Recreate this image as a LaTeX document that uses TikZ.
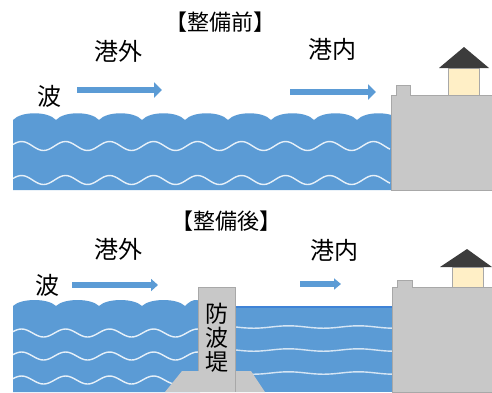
\documentclass[tikz,border=0pt]{standalone}
\usepackage{fontspec}
\setmainfont{Noto Sans CJK JP}
\usetikzlibrary{arrows.meta}
\definecolor{sea}{HTML}{5B9BD5}
\definecolor{calmline}{HTML}{3F83D6}
\definecolor{quay}{HTML}{C8C8C8}
\definecolor{quayedge}{HTML}{A8A8A8}
\definecolor{roof}{HTML}{3C3C3C}
\definecolor{wall}{HTML}{FFEFC6}
\begin{document}
\begin{tikzpicture}[x=1pt,y=-1pt,
  water/.style={fill=sea,draw=none},
  foam/.style={draw=white,opacity=0.85,line width=1.4pt},
  calmfoam/.style={draw=white,opacity=0.75,line width=1.4pt},
  concrete/.style={fill=quay,draw=quayedge,line width=0.6pt},
  flow/.style={draw=sea,line width=6pt,-{Triangle[length=8pt,width=15pt]}},
  smallflow/.style={draw=sea,line width=5.5pt,-{Triangle[length=7pt,width=11pt]}},
  title/.style={font=\fontsize{22}{22}\selectfont,inner sep=0pt},
  label/.style={font=\fontsize{24}{24}\selectfont,inner sep=0pt}]
\useasboundingbox (0,0) rectangle (492,392);
\fill[white] (0,0) rectangle (492,392);

% ---------- before: open sea reaching the quay ----------
\node[title] (t1) at (220,22) {【整備前】};
\node[label] (o1) at (118,51) {港外};
\node[label] (w1) at (49,96) {波};
\node[label] (i1) at (332,49) {港内};

\fill[water] (13,190) -- (13,120)
  \foreach \k in {0,...,8} { .. controls ({13+43*\k+8},111) and ({13+43*\k+35},111) .. ({13+43*(\k+1)},120) }
  -- (395,120) -- (395,190) -- cycle;
\draw[foam] plot[domain=13:390,samples=160] (\x,{146+4.5*sin((\x-13)/44*360+200)});
\draw[foam] plot[domain=13:390,samples=160] (\x,{180+4.5*sin((\x-13)/44*360+200)});

\coordinate (a1s) at (77,90);  \coordinate (a1e) at (162,90);
\coordinate (a2s) at (290,92); \coordinate (a2e) at (376,92);
\draw[flow] (a1s) -- (a1e);
\draw[flow] (a2s) -- (a2e);

% quay and lighthouse
\draw[concrete] (391,190) -- (391,95) -- (396,95) -- (396,85) -- (410,85) -- (410,95) -- (492,95) -- (492,190) -- cycle;
\fill[wall,draw=quayedge,line width=0.4pt] (448,68) rectangle (479,95);
\fill[roof] (439,68) -- (464,47) -- (489,68) -- cycle;

% ---------- after: breakwater shelters the harbour ----------
\node[title] (t2) at (226,221) {【整備後】};
\node[label] (o2) at (118,249) {港外};
\node[label] (w2) at (47,285) {波};
\node[label] (i2) at (334,250) {港内};

% outer sea
\fill[water] (13,392) -- (13,306)
  \foreach \k in {0,...,3} { .. controls ({13+43*\k+8},298) and ({13+43*\k+35},298) .. ({13+43*(\k+1)},306) }
  .. controls (193,298) and (197,300) .. (200,301) -- (200,392) -- cycle;
\draw[foam] plot[domain=13:198,samples=90] (\x,{333+4*sin((\x-13)/44*360+200)});
\draw[foam] plot[domain=13:198,samples=90] (\x,{356+4*sin((\x-13)/44*360+200)});
\draw[foam] plot[domain=13:198,samples=90] (\x,{380+4*sin((\x-13)/44*360+200)});

% inner calm water
\fill[water] (234,306) rectangle (394,392);
\draw[calmline,line width=2.4pt] (234,307) -- (395,307);
\draw[calmfoam] plot[domain=236:392,samples=60] (\x,{327+1.2*sin((\x-236)/70*360)});
\draw[calmfoam] plot[domain=236:392,samples=60] (\x,{350+1.2*sin((\x-236)/70*360)});
\draw[calmfoam] plot[domain=236:395,samples=60] (\x,{373+1.2*sin((\x-236)/70*360)});

\coordinate (b1s) at (72,285);  \coordinate (b1e) at (158,285);
\coordinate (b2s) at (300,284); \coordinate (b2e) at (341,284);
\draw[flow,-{Triangle[length=7pt,width=12pt]}] (b1s) -- (b1e);
\draw[smallflow] (b2s) -- (b2e);

% breakwater on its rubble mound
\fill[quay] (165,392) -- (182,371) -- (251,371) -- (265,392) -- cycle;
\draw[concrete] (198,392) -- (198,287) -- (235,287) -- (235,392);
\fill[quay] (198.3,371) rectangle (234.7,392);
\node[label,align=center,font=\fontsize{23}{24}\selectfont] (bw) at (217,338) {防\\波\\堤};

% quay and lighthouse
\draw[concrete] (392,392) -- (392,287) -- (397,287) -- (397,280) -- (412,280) -- (412,287) -- (492,287) -- (492,392) -- cycle;
\fill[wall,draw=quayedge,line width=0.4pt] (452,267) rectangle (483,287);
\fill[roof] (440,267) -- (467,249) -- (492,267) -- cycle;
\end{tikzpicture}
\end{document}
